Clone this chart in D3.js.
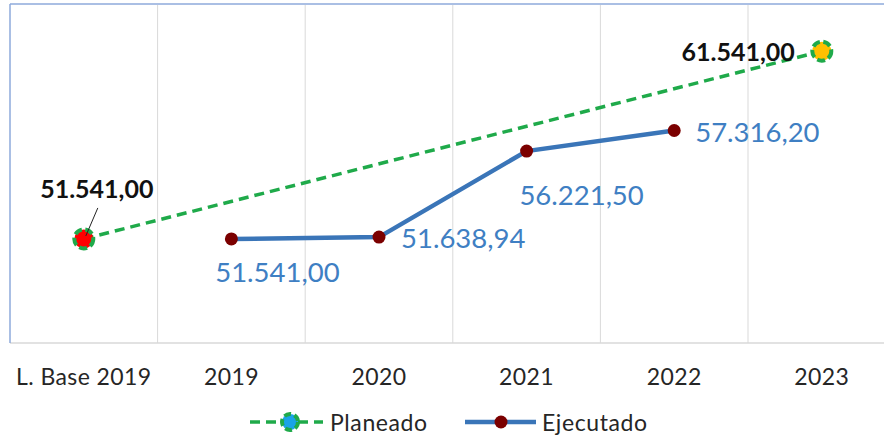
<!DOCTYPE html>
<html lang="es">
<head>
<meta charset="UTF-8">
<title>Planeado vs Ejecutado</title>
<script src="https://cdn.jsdelivr.net/npm/d3@7"></script>
<style>
  body { margin: 0; background: #fff; }
  svg { display: block; font-family: Lato, "Open Sans", sans-serif; }
</style>
</head>
<body>
<svg id="chart" width="884" height="438"></svg>
<script>
// categories on the x axis
var categories = ["L. Base 2019", "2019", "2020", "2021", "2022", "2023"];

// planned: only the baseline and the target year
var planeadoCats = ["L. Base 2019", "2023"];
var planeadoValues = [51541.00, 61541.00];
var planeadoLabels = ["51.541,00", "61.541,00"];

// executed values per year
var ejecutadoCats = ["2019", "2020", "2021", "2022"];
var ejecutadoValues = [51541.00, 51638.94, 56221.50, 57316.20];
var ejecutadoLabels = ["51.541,00", "51.638,94", "56.221,50", "57.316,20"];

var legendNames = ["Planeado", "Ejecutado"];

var svg = d3.select('#chart');

var plotLeft = 10, plotTop = 5, plotBottom = 343;
var bandW = 147.6;

var x = d3.scaleBand()
    .domain(categories)
    .range([plotLeft, plotLeft + bandW * categories.length]);

var y = d3.scaleLinear()
    .domain([46000, 64000])
    .range([plotBottom, plotTop]);

// vertical gridlines at band edges
svg.append('g').selectAll('line')
    .data(categories.slice(1))
    .enter()
    .append('line')
    .attr('x1', d => x(d)).attr('x2', d => x(d))
    .attr('y1', plotTop).attr('y2', plotBottom)
    .attr('stroke', '#d9d9d9').attr('stroke-width', 1);

// plot frame
svg.append('line').attr('x1', plotLeft).attr('x2', 884).attr('y1', plotBottom).attr('y2', plotBottom)
    .attr('stroke', '#d9d9d9').attr('stroke-width', 1.5);
svg.append('line').attr('x1', plotLeft).attr('x2', plotLeft).attr('y1', plotTop - 1).attr('y2', plotBottom)
    .attr('stroke', '#8eaadb').attr('stroke-width', 1.5);
svg.append('line').attr('x1', plotLeft).attr('x2', 884).attr('y1', plotTop - 1).attr('y2', plotTop - 1)
    .attr('stroke', '#8eaadb').attr('stroke-width', 1.5);

// x axis labels
var xAxis = svg.append('g')
    .attr('transform', `translate(0, ${plotBottom})`)
    .call(d3.axisBottom(x).tickSize(0).tickPadding(26));
xAxis.select('.domain').remove();
xAxis.selectAll('text')
    .attr('fill', '#262626')
    .style('font-size', '23px')
    .style('letter-spacing', '0.4px')
    .style('font-family', 'Lato, sans-serif');

var cx = d => x(d) + x.bandwidth() / 2;

// planned dashed line
var plan = planeadoCats.map((c, i) => ({ cat: c, v: planeadoValues[i], label: planeadoLabels[i] }));
svg.append('path')
    .datum(plan)
    .attr('fill', 'none')
    .attr('stroke', '#1faa4a')
    .attr('stroke-width', 3.5)
    .attr('stroke-dasharray', '10,6')
    .attr('d', d3.line().x(d => cx(d.cat)).y(d => y(d.v)));

// executed line
var ejec = ejecutadoCats.map((c, i) => ({ cat: c, v: ejecutadoValues[i], label: ejecutadoLabels[i] }));
svg.append('path')
    .datum(ejec)
    .attr('fill', 'none')
    .attr('stroke', '#3a75b8')
    .attr('stroke-width', 4.5)
    .attr('d', d3.line().x(d => cx(d.cat)).y(d => y(d.v)));

svg.append('g').selectAll('circle')
    .data(ejec)
    .enter()
    .append('circle')
    .attr('cx', d => cx(d.cat))
    .attr('cy', d => y(d.v))
    .attr('r', 6.5)
    .attr('fill', '#7b0000');

// planned markers: red at baseline, gold at target, green dashed ring
var planFill = ['#ff0000', '#ffc000'];
svg.append('g').selectAll('circle')
    .data(plan)
    .enter()
    .append('circle')
    .attr('cx', d => cx(d.cat))
    .attr('cy', d => y(d.v))
    .attr('r', 9.5)
    .attr('fill', (d, i) => planFill[i])
    .attr('stroke', '#1faa4a')
    .attr('stroke-width', 4)
    .attr('stroke-dasharray', '8,3.5');

// leader line for baseline label
svg.append('line')
    .attr('x1', cx(plan[0].cat) + 14).attr('y1', y(plan[0].v) - 31)
    .attr('x2', cx(plan[0].cat) + 2).attr('y2', y(plan[0].v) - 3)
    .attr('stroke', '#222').attr('stroke-width', 1);

// planned labels (bold black)
var planLabelPos = [
    { dx: 13, dy: -41, anchor: 'middle' },
    { dx: -27, dy: 10, anchor: 'end' }
];
svg.append('g').selectAll('text')
    .data(plan)
    .enter()
    .append('text')
    .attr('x', (d, i) => cx(d.cat) + planLabelPos[i].dx)
    .attr('y', (d, i) => y(d.v) + planLabelPos[i].dy)
    .attr('text-anchor', (d, i) => planLabelPos[i].anchor)
    .attr('fill', '#111')
    .style('font-size', '25px')
    .style('font-weight', 'bold')
    .text(d => d.label);

// executed labels (blue)
var ejecLabelPos = [
    { dx: 46, dy: 43, anchor: 'middle' },
    { dx: 22, dy: 11, anchor: 'start' },
    { dx: 55, dy: 54, anchor: 'middle' },
    { dx: 21, dy: 11, anchor: 'start' }
];
svg.append('g').selectAll('text')
    .data(ejec)
    .enter()
    .append('text')
    .attr('x', (d, i) => cx(d.cat) + ejecLabelPos[i].dx)
    .attr('y', (d, i) => y(d.v) + ejecLabelPos[i].dy)
    .attr('text-anchor', (d, i) => ejecLabelPos[i].anchor)
    .attr('fill', '#3f7fc3')
    .style('font-size', '27.5px')
    .text(d => d.label);

// legend
var legend = svg.append('g').attr('transform', 'translate(0, 422)');

legend.append('line')
    .attr('x1', 250).attr('x2', 323).attr('y1', 0).attr('y2', 0)
    .attr('stroke', '#1faa4a').attr('stroke-width', 3.5).attr('stroke-dasharray', '10,6');
legend.append('circle')
    .attr('cx', 290).attr('cy', 0).attr('r', 8)
    .attr('fill', '#1aa3e8')
    .attr('stroke', '#1faa4a').attr('stroke-width', 4).attr('stroke-dasharray', '7,3.5');
legend.append('text')
    .attr('x', 330).attr('y', 9)
    .attr('fill', '#262626')
    .style('font-size', '23px')
    .style('letter-spacing', '0.6px')
    .text(legendNames[0]);

legend.append('line')
    .attr('x1', 465).attr('x2', 536).attr('y1', 0).attr('y2', 0)
    .attr('stroke', '#3a75b8').attr('stroke-width', 4.5);
legend.append('circle')
    .attr('cx', 501).attr('cy', 0).attr('r', 6.5)
    .attr('fill', '#7b0000');
legend.append('text')
    .attr('x', 542).attr('y', 9)
    .attr('fill', '#262626')
    .style('font-size', '23px')
    .style('letter-spacing', '0.6px')
    .text(legendNames[1]);
</script>
</body>
</html>
